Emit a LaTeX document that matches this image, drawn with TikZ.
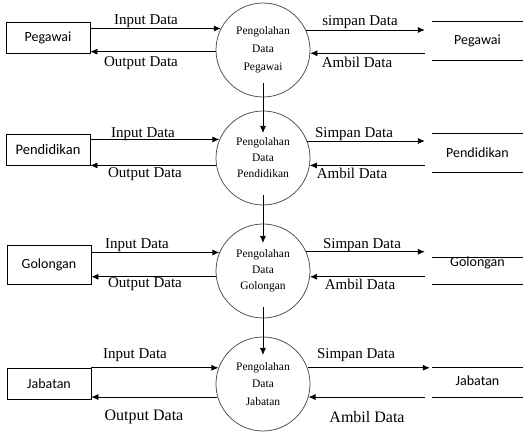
\documentclass[tikz,border=0pt]{standalone}
\usepackage{fontspec}
\setmainfont{Liberation Serif}
\newfontfamily\calibri{Carlito}
\usetikzlibrary{arrows.meta}
\tikzset{
	ent/.style={draw, line width=0.75pt, minimum width=84pt, minimum height=31pt, inner sep=0pt, font=\calibri\fontsize{14}{16}\selectfont},
	proc/.style={circle, draw=black!70, line width=0.75pt, minimum size=94pt, inner sep=0pt, align=center, font=\fontsize{11.5}{16}\selectfont},
	store/.style={minimum width=91pt, inner sep=0pt, font=\calibri\fontsize{14}{16}\selectfont},
	lbl/.style={inner sep=0pt, font=\fontsize{15}{17}\selectfont},
	flow/.style={line width=0.75pt, -{Latex[length=7pt,width=6pt]}}
}
\begin{document}
\begin{tikzpicture}[x=1pt, y=1pt]
			\useasboundingbox (0,0) rectangle (523,434);

			\node[ent] (e1) at (48,396.5) {Pegawai};
			\node[proc, font=\fontsize{11.5}{18}\selectfont] (p1) at (263,384) {Pengolahan\\Data\\Pegawai};
			\node[store, minimum height=38pt] (s1) at (477.5,393) {Pegawai};
				\draw[flow] (e1.east |- p1.153) to (p1.153);
				\draw[flow] (p1.182) to (e1.east |- p1.182);
				\draw[flow, shorten >=7pt] (p1.25) to (s1.west |- p1.25);
				\draw[flow, shorten <=7pt] (s1.west |- p1.356) to (p1.356);
				\node[lbl] (in1) at (146,413) {Input Data};
				\node[lbl] (out1) at (141,371) {Output Data};
				\node[lbl] (sim1) at (360,412) {simpan Data};
				\node[lbl] (amb1) at (357,371.5) {Ambil Data};

			\node[ent, font=\calibri\fontsize{14.5}{16}\selectfont] (e2) at (48,284.5) {Pendidikan};
			\node[proc] (p2) at (263,276) {Pengolahan\\Data\\Pendidikan};
			\node[store, minimum height=38pt] (s2) at (477.5,281) {Pendidikan};
				\draw[flow] (e2.east |- p2.157) to (p2.157);
				\draw[flow] (p2.189) to (e2.east |- p2.189);
				\draw[flow, shorten >=7pt] (p2.21) to (s2.west |- p2.21);
				\draw[flow, shorten <=7pt] (s2.west |- p2.351) to (p2.351);
				\node[lbl] (in2) at (143,300) {Input Data};
				\node[lbl] (out2) at (145,260) {Output Data};
				\node[lbl] (sim2) at (354,300) {Simpan Data};
				\node[lbl] (amb2) at (352,261) {Ambil Data};

			\node[ent, minimum height=39pt] (e3) at (49,169.5) {Golongan};
			\node[proc] (p3) at (263,163) {Pengolahan\\Data\\Golongan};
			\node[store, minimum height=26pt, label={[inner sep=0pt, yshift=8pt, font=\calibri\fontsize{14}{16}\selectfont]center:Golongan}] (s3) at (477.5,163) {};
				\draw[flow] (e3.east |- p3.157) to (p3.157);
				\draw[flow] (p3.187) to (e3.east |- p3.187);
				\draw[flow, shorten >=7pt] (p3.24) to (s3.west |- p3.24);
				\draw[flow, shorten <=7pt] (s3.west |- p3.353) to (p3.353);
				\node[lbl] (in3) at (137,189) {Input Data};
				\node[lbl] (out3) at (145,150) {Output Data};
				\node[lbl] (sim3) at (362,189) {Simpan Data};
				\node[lbl] (amb3) at (360,150) {Ambil Data};

			\node[ent] (e4) at (49,50.5) {Jabatan};
			\node[proc, font=\fontsize{11.5}{17.5}\selectfont] (p4) at (263,50) {Pengolahan\\Data\\Jabatan};
			\node[store, minimum height=29pt] (s4) at (477.5,53) {Jabatan};
				\draw[flow] (e4.east |- p4.160) to (p4.160);
				\draw[flow] (p4.196) to (e4.east |- p4.196);
				\draw[flow, shorten >=2pt] (p4.20) to (s4.west |- p4.20);
				\draw[flow, shorten <=7pt] (s4.west |- p4.344) to (p4.344);
				\node[lbl] (in4) at (135,79) {Input Data};
				\node[lbl, font=\fontsize{16}{18}\selectfont] (out4) at (144,17) {Output Data};
				\node[lbl] (sim4) at (356,79) {Simpan Data};
				\node[lbl, font=\fontsize{16}{18}\selectfont] (amb4) at (367,17) {Ambil Data};

			\draw[line width=0.75pt] (s1.north west) to (s1.north east) (s1.south west) to (s1.south east);
			\draw[line width=0.75pt] (s2.north west) to (s2.north east) (s2.south west) to (s2.south east);
			\draw[line width=0.75pt] (s3.north west) to (s3.north east) (s3.south west) to (s3.south east);
			\draw[line width=0.75pt] ([yshift=-1.5pt]s4.north west) to ([yshift=-1.5pt]s4.north east) ([yshift=-1.5pt]s4.south west) to ([yshift=-1.5pt]s4.south east);

			\draw[flow] ([yshift=-33pt]p1.center) to ([yshift=25pt]p2.center);
			\draw[flow] ([yshift=-37pt]p2.center) to ([yshift=28pt]p3.center);
			\draw[flow] ([yshift=-36pt]p3.center) to ([yshift=29pt]p4.center);
\end{tikzpicture}
\end{document}
